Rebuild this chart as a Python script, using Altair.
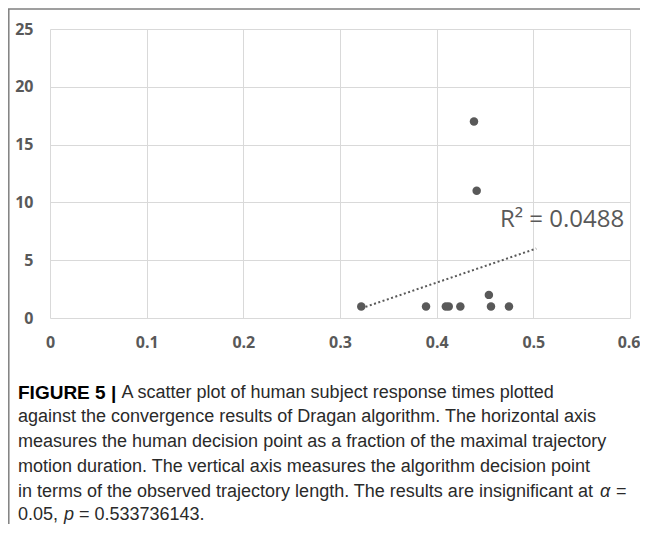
import altair as alt
import pandas as pd

# ---- data ----
X_VALUES = [0.322, 0.389, 0.4095, 0.4125, 0.4245, 0.4386, 0.4414, 0.454, 0.4562, 0.4748]
Y_VALUES = [1, 1, 1, 1, 1, 17, 11, 2, 1, 1]
TREND_EXTENT = [0.322, 0.503]
X_TICKS = [0, 0.1, 0.2, 0.3, 0.4, 0.5, 0.6]
Y_TICKS = [0, 5, 10, 15, 20, 25]
R2_LABEL = ["R\u00b2 = 0.0488"]
R2_POS_X = [0.5297]
R2_POS_Y = [7.85]

CAPTION_BOLD = "FIGURE 5 |"
CAPTION_LINES = [
    "A scatter plot of human subject response times plotted",
    "against the convergence results of Dragan algorithm. The horizontal axis",
    "measures the human decision point as a fraction of the maximal trajectory",
    "motion duration. The vertical axis measures the algorithm decision point",
    "in terms of the observed trajectory length. The results are insignificant at",
]
LAST_LINE_PARTS = ["0.05,", "p", "= 0.533736143."]

GRAY = "#595959"
GRID = "#d9d9d9"
TEXT = "#2a2a2a"

df = pd.DataFrame({"x": X_VALUES, "y": Y_VALUES})
lab = pd.DataFrame({"t": R2_LABEL, "x": R2_POS_X, "y": R2_POS_Y})

xs = alt.Scale(domain=[0, 0.6], nice=False, zero=False)
ys = alt.Scale(domain=[0, 25], nice=False, zero=False)

axis_common = dict(
    grid=True, gridColor=GRID, gridWidth=1, domain=False, ticks=False,
    labelFont="Open Sans", labelFontWeight="bold", labelFontSize=16,
    labelColor=GRAY, title=None, labelFlush=False, labelOverlap=False,
)

x_axis = alt.Axis(
    values=X_TICKS, format=".1~f", labelPadding=16,
    labelAlign={"condition": {"test": "datum.value >= 0.59", "value": "right"}, "value": "center"},
    labelOffset={"condition": {"test": "datum.value >= 0.59", "value": 10}, "value": 0},
    **axis_common,
)

points = alt.Chart(df).mark_circle(size=72, color=GRAY, opacity=1).encode(
    x=alt.X("x:Q", scale=xs, axis=x_axis),
    y=alt.Y("y:Q", scale=ys, axis=alt.Axis(values=Y_TICKS, labelPadding=17, **axis_common)),
)

trend = alt.Chart(df).transform_regression("x", "y", extent=TREND_EXTENT).mark_line(
    color=GRAY, strokeWidth=2, strokeDash=[2, 2.5]
).encode(x=alt.X("x:Q", scale=xs), y=alt.Y("y:Q", scale=ys))

r2 = alt.Chart(lab).mark_text(
    font="Open Sans", fontSize=24, color=GRAY, align="center", baseline="alphabetic"
).encode(x=alt.X("x:Q", scale=xs), y=alt.Y("y:Q", scale=ys), text="t:N")


def txt(s, x, y, weight="normal", style="normal", color=TEXT, size=18):
    return alt.Chart(pd.DataFrame({"t": [s]})).mark_text(
        font="Liberation Sans", fontSize=size, color=color, align="left",
        baseline="middle", fontWeight=weight, fontStyle=style,
    ).encode(text="t:N", x=alt.value(x), y=alt.value(y))


LINE_Y = [363.5, 388, 413, 438, 462.5, 485.5]
CAP_X = -32

layers = [trend, points, r2]
layers.append(txt(CAPTION_BOLD, CAP_X, LINE_Y[0], weight="bold", color="#000000", size=19))
layers.append(txt(CAPTION_LINES[0], 71.5, LINE_Y[0]))
for i in range(1, 5):
    layers.append(txt(CAPTION_LINES[i], CAP_X, LINE_Y[i]))
layers.append(txt("\u03b1", 550, LINE_Y[4], style="italic"))
layers.append(txt("=", 566, LINE_Y[4]))
layers.append(txt(LAST_LINE_PARTS[0], CAP_X, LINE_Y[5]))
layers.append(txt(LAST_LINE_PARTS[1], 14, LINE_Y[5], style="italic"))
layers.append(txt(LAST_LINE_PARTS[2], 29, LINE_Y[5]))

# figure frame lines
frame_left = alt.Chart(pd.DataFrame({"a": [0]})).mark_rule(color="#7f7f7f", strokeWidth=1.5).encode(
    x=alt.value(-41.2), y=alt.value(-20), y2=alt.value(500)
)
frame_top = alt.Chart(pd.DataFrame({"a": [0]})).mark_rule(color="#7f7f7f", strokeWidth=1.5).encode(
    x=alt.value(-42), x2=alt.value(600), y=alt.value(-20)
)
layers += [frame_left, frame_top]

chart = alt.layer(*layers).properties(
    width=580, height=289,
    autosize=alt.AutoSizeParams(type="none"),
    padding={"left": 42, "top": 21, "right": 10, "bottom": 206},
    background="white",
).configure_view(strokeWidth=0)

chart.save("out.html", embed_options={"renderer": "svg", "actions": False})
